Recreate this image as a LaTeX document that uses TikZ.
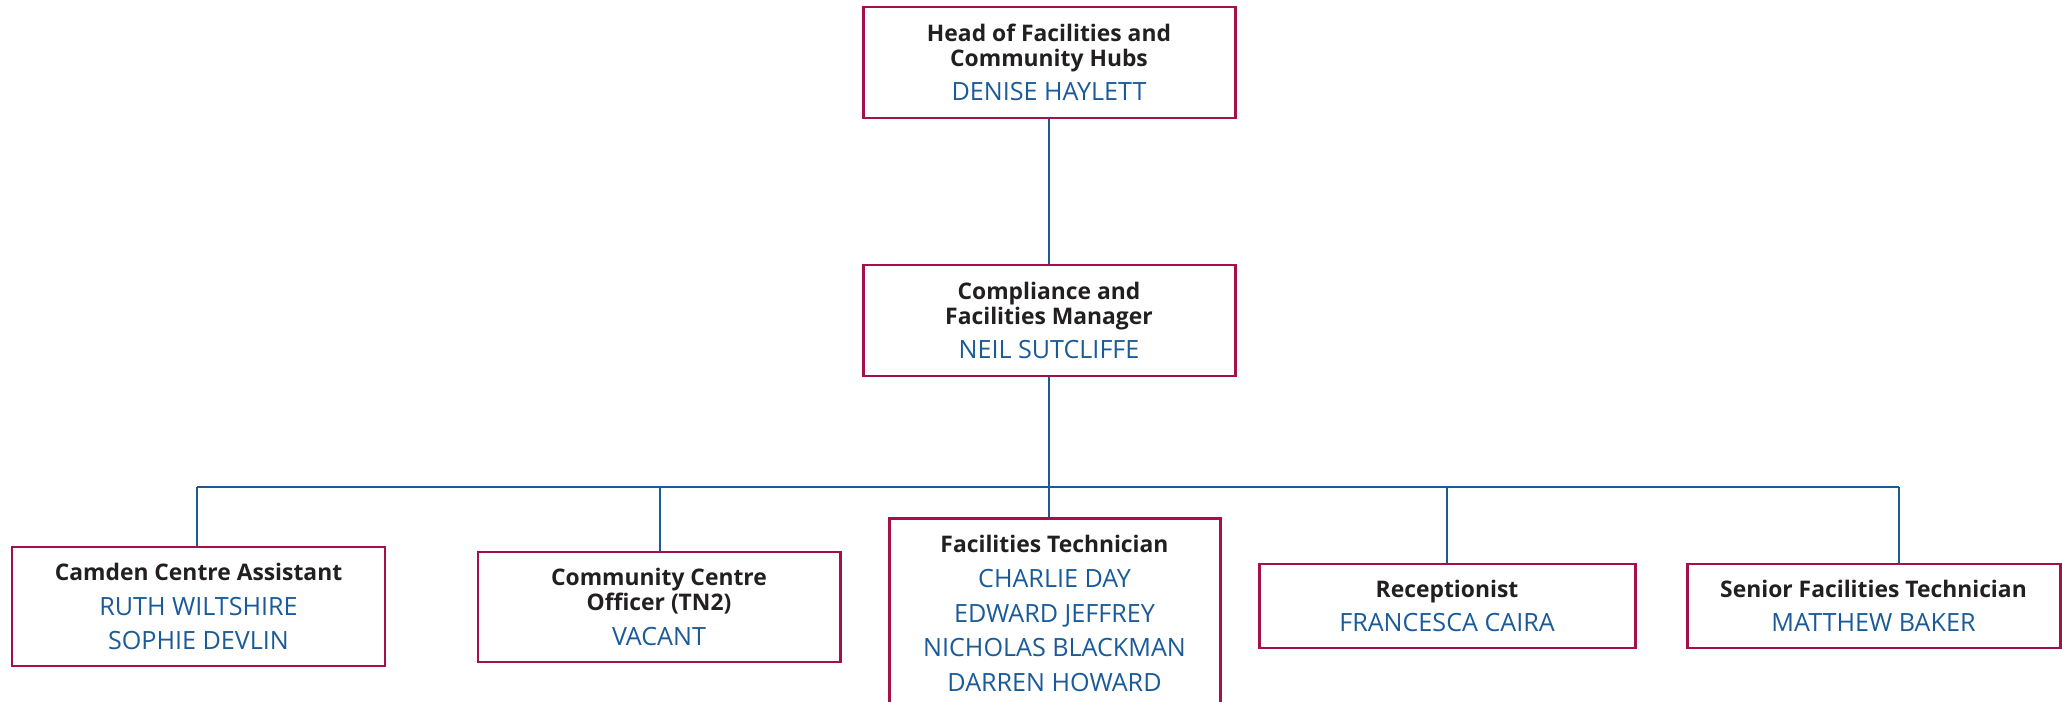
\documentclass[tikz,border=0pt]{standalone}
\usepackage{fontspec}
\setmainfont{Open Sans}
\definecolor{boxred}{HTML}{A5104A}
\definecolor{lineblue}{HTML}{1B5A99}
\definecolor{inkblack}{HTML}{231F20}
\newcommand\jt[1]{\textbf{\color{inkblack}#1}}
\newcommand\pn[1]{{\fontsize{14.3}{14.2}\selectfont\color{lineblue}#1}}

\begin{document}
\begin{tikzpicture}[
    post/.style={draw=boxred, line width=1.7pt, align=center, inner sep=0pt,
      font=\fontsize{13}{14.2}\selectfont},
    link/.style={draw=lineblue, line width=1.1pt}]
  \useasboundingbox (0,0) rectangle (41.24,14.02);
  \clip (0,0) rectangle (41.24,14.02);
  % the two managers
  \node [post, minimum width=7.44cm, minimum height=2.22cm] (head) at (20.98,12.77)
    {\jt{Head of Facilities and}\\\jt{Community Hubs}\\[5.5pt]\pn{DENISE HAYLETT}};
  \node [post, minimum width=7.44cm, minimum height=2.22cm] (mgr) at (20.98,7.61)
    {\jt{Compliance and}\\\jt{Facilities Manager}\\[5.5pt]\pn{NEIL SUTCLIFFE}};
  % the team
  \node [post, minimum width=7.46cm, minimum height=2.38cm] (cam) at (3.97,1.89)
    {\jt{Camden Centre Assistant}\\[5.5pt]\pn{RUTH WILTSHIRE}\\[5.5pt]\pn{SOPHIE DEVLIN}};
  \node [post, minimum width=7.24cm, minimum height=2.2cm] (cco) at (13.18,1.88)
    {\jt{Community Centre}\\\jt{Officer (TN2)}\\[5.5pt]\pn{VACANT}};
  \node [post, minimum width=6.62cm, minimum height=3.8cm, anchor=north] (ft) at (21.09,3.68)
    {\jt{Facilities Technician}\\[5.5pt]\pn{CHARLIE DAY}\\[5.5pt]\pn{EDWARD JEFFREY}\\[5.5pt]%
     \pn{NICHOLAS BLACKMAN}\\[5.5pt]\pn{DARREN HOWARD}};
  \node [post, minimum width=7.52cm, minimum height=1.68cm] (rec) at (28.94,1.9)
    {\jt{Receptionist}\\[5.5pt]\pn{FRANCESCA CAIRA}};
  \node [post, minimum width=7.46cm, minimum height=1.68cm] (snr) at (37.47,1.9)
    {\jt{Senior Facilities Technician}\\[5.5pt]\pn{MATTHEW BAKER}};
  % reporting lines
  \coordinate (bus) at (20.98,4.28);
  \coordinate (camj) at (3.94,4.28);
  \coordinate (ccoj) at (13.2,4.28);
  \coordinate (recj) at (28.94,4.28);
  \coordinate (snrj) at (37.98,4.28);
  \draw [link] (head) -- (mgr);
  \draw [link] (mgr) -- (bus |- ft.north);
  \draw [link] (camj) -- (snrj);
  \draw [link] (camj) -- (camj |- cam.north);
  \draw [link] (ccoj) -- (ccoj |- cco.north);
  \draw [link] (recj) -- (recj |- rec.north);
  \draw [link] (snrj) -- (snrj |- snr.north);
\end{tikzpicture}
\end{document}
